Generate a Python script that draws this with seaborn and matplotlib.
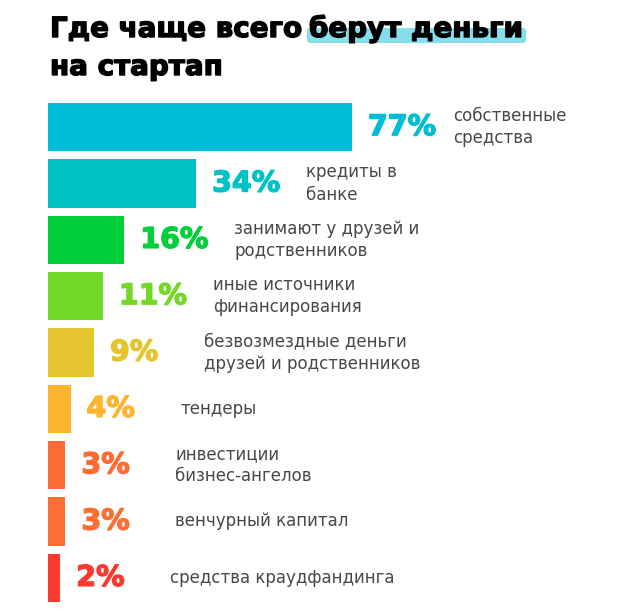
import numpy as np
import pandas as pd
import matplotlib
matplotlib.use("Agg")
import matplotlib.pyplot as plt
import matplotlib.patheffects as pe
import seaborn as sns
from matplotlib.patches import FancyBboxPatch

# ---- data ----
categories = [
    "собственные\nсредства",
    "кредиты в\nбанке",
    "занимают у друзей и\nродственников",
    "иные источники\nфинансирования",
    "безвозмездные деньги\nдрузей и родственников",
    "тендеры",
    "инвестиции\nбизнес-ангелов",
    "венчурный капитал",
    "средства краудфандинга",
]
values = [77, 34, 16, 11, 9, 4, 3, 3, 2]
value_labels = ["77%", "34%", "16%", "11%", "9%", "4%", "3%", "3%", "2%"]
colors = ["#00BCD6", "#00C1C6", "#00CF3A", "#74D826", "#E4C530",
          "#FDB52F", "#FD6C35", "#FD6E35", "#FA3A30"]
title_plain = "Где чаще всего"
title_highlight = "берут деньги"
title_line2 = "на стартап"

# ---- style ----
sns.set_theme(style="white")
plt.rcParams["font.family"] = ["DejaVu Sans"]
heavy = ["DejaVu Sans"]

W, H = 620, 613
fig = plt.figure(figsize=(W / 100, H / 100), dpi=100)
fig.patch.set_facecolor("white")

left_px, right_px = 48, 620
top_px, bot_px = 99, 606
ax = fig.add_axes([left_px / W, 1 - bot_px / H, (right_px - left_px) / W, (bot_px - top_px) / H])

df = pd.DataFrame({"cat": categories, "val": values})
sns.barplot(data=df, x="val", y="cat", hue="cat", palette=colors, legend=False,
            width=0.86, saturation=1, orient="h", ax=ax, linewidth=0)

p = 0.88
ax.set_xscale("function", functions=(lambda x: np.sign(x) * np.abs(x) ** p,
                                     lambda x: np.sign(x) * np.abs(x) ** (1 / p)))
xmax = values[0] * ((right_px - left_px) / 304) ** (1 / p)
ax.set_xlim(0, xmax)
ax.set_ylim(8.5, -0.5)
ax.set_axis_off()

for i, (v, lab, desc) in enumerate(zip(values, value_labels, categories)):
    ax.annotate(lab, xy=(v, i), xytext=(16, 0), textcoords="offset pixels",
                ha="left", va="center", fontsize=20.5, fontweight="bold",
                family=heavy, color=colors[i],
                path_effects=[pe.withStroke(linewidth=1.0, foreground=colors[i])])
    ax.annotate(desc, xy=(v, i), xytext=(101 if i == 0 else 110, 0), textcoords="offset pixels",
                ha="left", va="center", fontsize=12, color="#484848",
                linespacing=1.3)

# ---- title ----
tfont = dict(fontsize=20, fontweight="bold", family=heavy,
             color="#000000", va="baseline", ha="left",
             path_effects=[pe.withStroke(linewidth=1.0, foreground="#000000")])
t1 = fig.text(50 / W, 1 - 37 / H, title_plain, **tfont)
t3 = fig.text(50 / W, 1 - 75 / H, title_line2, **tfont)
fig.canvas.draw()
r = fig.canvas.get_renderer()
bb1 = t1.get_window_extent(r)
x2 = bb1.x1 + 7
t2 = fig.text(x2 / W, 1 - 37 / H, title_highlight, zorder=3, **tfont)
fig.canvas.draw()
bb2 = t2.get_window_extent(r)
hl_x0 = x2 - 2
hl_x1 = bb2.x1 + 3
hl_top, hl_bot = 28, 43
patch = FancyBboxPatch((hl_x0 / W, 1 - hl_bot / H), (hl_x1 - hl_x0) / W, (hl_bot - hl_top) / H,
                       boxstyle="round,pad=0,rounding_size=0.005",
                       transform=fig.transFigure, facecolor="#86DEEA", edgecolor="none",
                       zorder=1)
fig.add_artist(patch)

fig.savefig("out.png", dpi=100, facecolor="white")
